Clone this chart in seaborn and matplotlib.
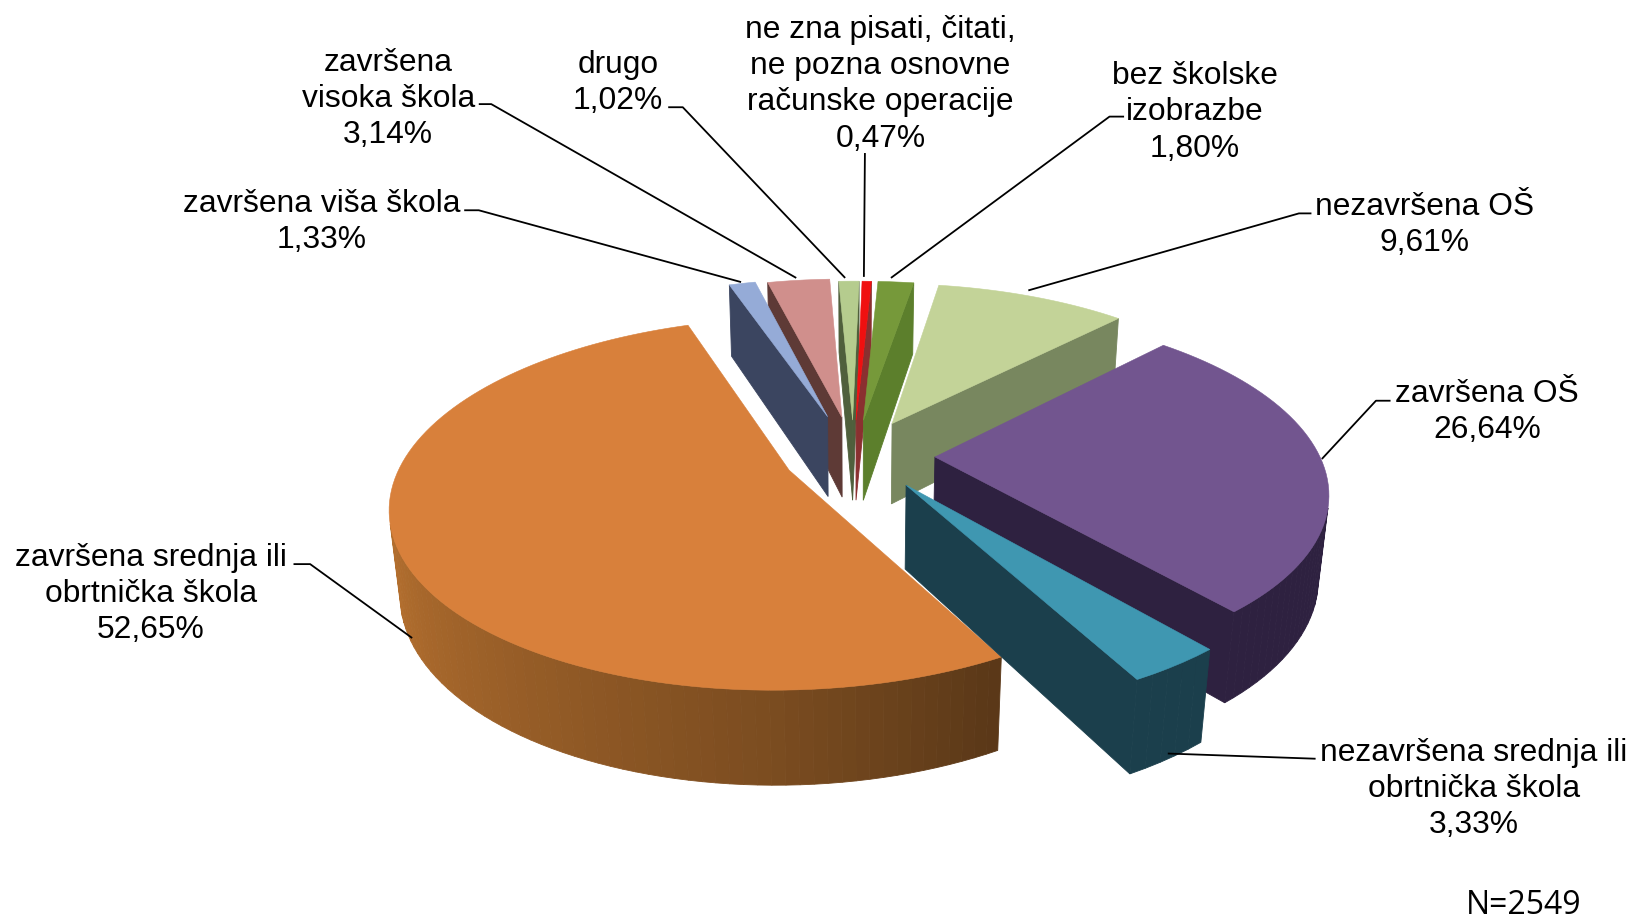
import numpy as np
import seaborn as sns
from matplotlib import pyplot as plt
from matplotlib.colors import to_rgb

# redoslijed kao na slici, u smjeru kazaljke od vrha
categories = ['ne zna pisati, čitati,\nne pozna osnovne\nračunske operacije',
              'bez školske\nizobrazbe',
              'nezavršena OŠ',
              'završena OŠ',
              'nezavršena srednja ili\nobrtnička škola',
              'završena srednja ili\nobrtnička škola',
              'završena viša škola',
              'završena\nvisoka škola',
              'drugo']
values = [0.47, 1.80, 9.61, 26.64, 3.33, 52.65, 1.33, 3.14, 1.02]
value_labels = ['0,47%', '1,80%', '9,61%', '26,64%', '3,33%', '52,65%', '1,33%', '3,14%', '1,02%']
explode = [0.20, 0.20, 0.20, 0.19, 0.19, 0.21, 0.23, 0.22, 0.20]
top_colors = ['#f01010', '#76993a', '#c3d398', '#72558f', '#3f97b1', '#d8803b', '#95abd7', '#d08f8c', '#b5cc8e']
side_colors = ['#8a3030', '#5c7f2c', '#78875f', '#2e2140', '#1b3f4c', '#b5702f', '#3b4560', '#5e3a36', '#4f5f3c']
n_label = 'N=2549'

# pozicije tekstova i linija (u koordinatama slike 1568x884)
label_pos = [(846, 81), (1148, 108), (1369, 216), (1429, 396), (1416, 758), (145, 571), (309, 213), (373, 95), (594, 80)]
leaders = [[(831, 148), (830, 267)],
           [(1080, 113), (1066, 113), (856, 268)],
           [(1260, 206), (1248, 206), (988, 280)],
           [(1336, 386), (1322, 386), (1270, 442)],
           [(1264, 730), (1122, 725)],
           [(282, 543), (298, 543), (396, 614)],
           [(446, 203), (460, 203), (712, 272)],
           [(460, 101), (472, 101), (765, 268)],
           [(642, 104), (656, 104), (812, 268)]]

# sitni pomaci krisaka na slici (px) i zakret po kriski (stupnjevi)
nudge = [(-8, 0), (-6, 0), (-3, 0), (0, 2), (2, 3), (2, 1), (-10, 0), (-8, 0), (-8, 0)]
turn = [0, 0, 0, 0, 0, -1.0, 0, 0, 0]

cx, cy = 828, 437
focal, dist = 1848, 5.0
elev = np.radians(27)
height = 0.245
rotation = np.radians(2.0)


def project(x, y, z, i):
    '''pie koordinate (x desno, y od gledatelja, z gore) u koordinate slike'''
    w = dist + y * np.cos(elev) - z * np.sin(elev)
    sx = cx + focal * x / w + nudge[i][0]
    sy = cy - focal * (y * np.sin(elev) + z * np.cos(elev)) / w + nudge[i][1]
    return sx, sy


def shade(color, f):
    return tuple(np.clip(np.array(to_rgb(color)) * f, 0, 1))


def area(pts):
    p = np.array(pts)
    return 0.5 * np.sum(p[:, 0] * np.roll(p[:, 1], -1) - np.roll(p[:, 0], -1) * p[:, 1])


sns.set_theme(style='white')
plt.rcParams['font.family'] = ['Liberation Sans', 'DejaVu Sans']
fig, ax = plt.subplots(figsize=(16.32, 9.2), dpi=100)
ax.set_position([0, 0, 1, 1])
ax.set_xlim(0, 1568)
ax.set_ylim(884, 0)
ax.axis('off')

shares = np.array(values) / np.sum(values) * 2 * np.pi
start = -shares[0] / 2 + rotation
ends = start + np.cumsum(shares) + np.radians(turn)
starts = start + np.cumsum(shares) - shares + np.radians(turn)
mids = (starts + ends) / 2

# prvo dalje kriske, pa bliže
for i in np.argsort(-np.cos(mids)):
    ox, oy = explode[i] * np.sin(mids[i]), explode[i] * np.cos(mids[i])
    th = np.linspace(starts[i], ends[i], max(4, int(shares[i] / 0.03)))
    xs, ys = ox + np.sin(th), oy + np.cos(th)

    quads = []
    # radijalni zidovi
    for tx, ty, flip in [(xs[0], ys[0], 1), (xs[-1], ys[-1], -1)]:
        q = [project(ox, oy, 0, i), project(tx, ty, 0, i), project(tx, ty, -height, i), project(ox, oy, -height, i)]
        if area(q) * flip < 0:
            quads.append((oy + 0.5 * (ty - oy), q, side_colors[i]))
    # vanjski luk
    for k in range(len(th) - 1):
        q = [project(xs[k], ys[k], 0, i), project(xs[k + 1], ys[k + 1], 0, i),
             project(xs[k + 1], ys[k + 1], -height, i), project(xs[k], ys[k], -height, i)]
        if area(q) < 0:
            f = 1.0
            if i == 5:
                # osvjetljenje uz rub narancaste kriske
                f = np.interp((th[k] - starts[i]) / shares[i], [0, 0.15, 0.35, 0.6], [0.50, 0.68, 0.85, 1.05])
            quads.append((ys[k], q, shade(side_colors[i], f)))
    for _, q, col in sorted(quads, key=lambda t: -t[0]):
        p = np.array(q)
        ax.fill(p[:, 0], p[:, 1], color=col, lw=0.6)

    top = [project(ox, oy, 0, i)] + [project(a, b, 0, i) for a, b in zip(xs, ys)]
    p = np.array(top)
    ax.fill(p[:, 0], p[:, 1], color=top_colors[i], lw=0.4)

for name, val, pos in zip(categories, value_labels, label_pos):
    ax.text(pos[0], pos[1], name + '\n' + val, ha='center', va='center', fontsize=22.9,
            color='black', linespacing=1.27)
for line in leaders:
    pts = np.array(line)
    ax.plot(pts[:, 0], pts[:, 1], color='black', lw=1.3, solid_capstyle='butt')

ax.text(1464, 870, n_label, ha='center', va='center', fontsize=23, color='black',
        family=['Open Sans', 'DejaVu Sans'])

fig.savefig('out.png', dpi=100, facecolor='white')
